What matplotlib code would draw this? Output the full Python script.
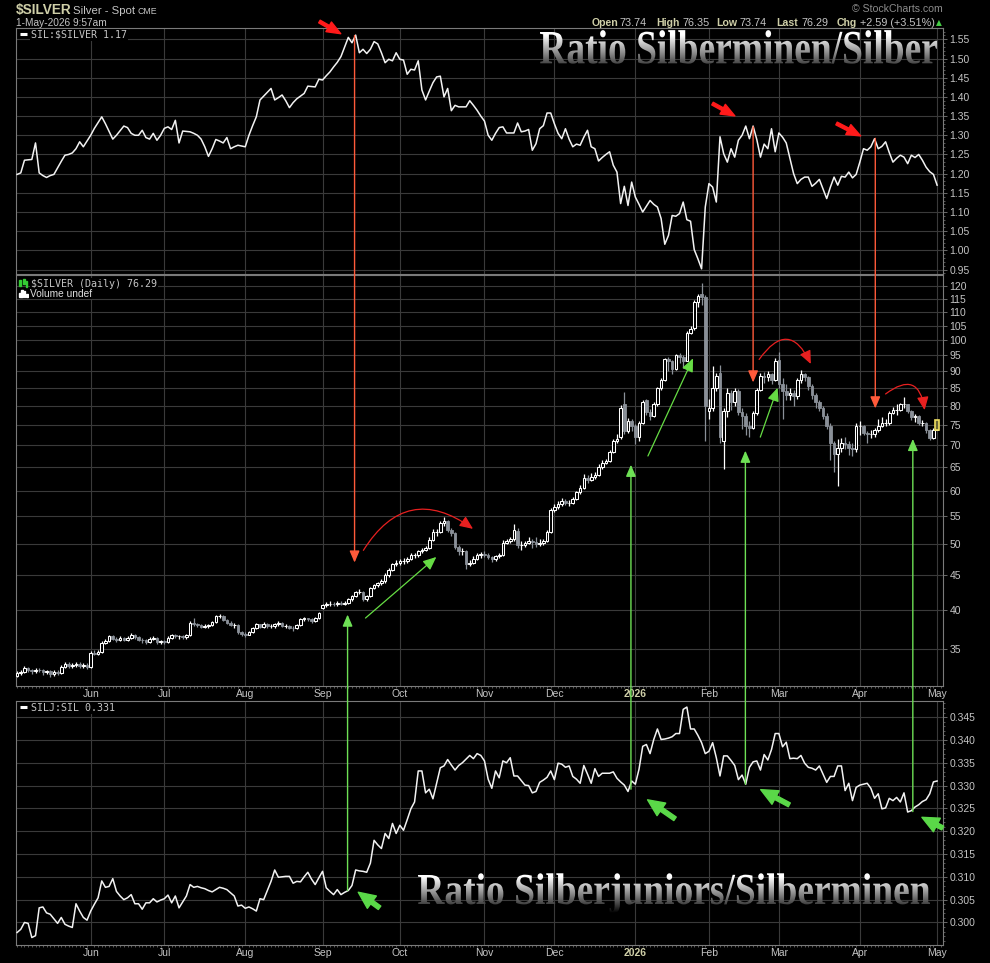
import numpy as np
import pandas as pd
import matplotlib
matplotlib.use("Agg")
import matplotlib.pyplot as plt
from matplotlib.patches import FancyArrowPatch, ConnectionPatch, PathPatch, Rectangle
from matplotlib.textpath import TextPath
from matplotlib.font_manager import FontProperties
from matplotlib.transforms import Affine2D
from matplotlib.ticker import MultipleLocator, NullLocator, NullFormatter, FuncFormatter

plt.rcParams['font.family'] = ['Liberation Sans', 'DejaVu Sans']

W, H = 990, 963
BG = "black"
GRID = "#3a3a3a"
FRAME = "#7a7a7a"
TXT = "#c4c4c4"
KHAKI = "#cfcfa8"
GRAY_C = "#8a9098"

# trading days (US holidays skipped)
holidays = ["2025-05-26", "2025-06-19", "2025-07-04", "2025-09-01", "2025-11-27",
            "2025-12-25", "2026-01-01", "2026-01-19", "2026-02-16", "2026-04-03"]
days = pd.bdate_range("2025-05-02", "2026-05-01")
days = days[~days.isin(pd.to_datetime(holidays))]

# ---- SIL:$SILVER ratio (top panel)
sil_silver = [
    1.198, 1.202, 1.235, 1.236, 1.237, 1.280, 1.202, 1.195, 1.190, 1.195,
    1.198, 1.215, 1.232, 1.248, 1.250, 1.254, 1.265, 1.283, 1.270, 1.285,
    1.300, 1.318, 1.333, 1.348, 1.330, 1.310, 1.290, 1.300, 1.312, 1.324,
    1.320, 1.305, 1.300, 1.300, 1.313, 1.294, 1.290, 1.305, 1.287, 1.300,
    1.318, 1.322, 1.315, 1.339, 1.280, 1.311, 1.310, 1.309, 1.305, 1.300,
    1.290, 1.270, 1.245, 1.265, 1.289, 1.285, 1.280, 1.294, 1.265, 1.270,
    1.274, 1.272, 1.270, 1.300, 1.325, 1.348, 1.392, 1.402, 1.412, 1.422,
    1.392, 1.398, 1.405, 1.390, 1.372, 1.385, 1.395, 1.402, 1.409, 1.428,
    1.427, 1.426, 1.446, 1.444, 1.455, 1.465, 1.478, 1.490, 1.505, 1.530,
    1.555, 1.541, 1.561, 1.515, 1.524, 1.513, 1.524, 1.544, 1.538, 1.515,
    1.489, 1.498, 1.494, 1.515, 1.498, 1.496, 1.459, 1.472, 1.470, 1.494,
    1.418, 1.392, 1.415, 1.437, 1.452, 1.454, 1.400, 1.422, 1.364, 1.378,
    1.374, 1.374, 1.374, 1.390, 1.378, 1.365, 1.350, 1.337, 1.300, 1.287,
    1.305, 1.320, 1.322, 1.306, 1.306, 1.306, 1.332, 1.309, 1.311, 1.315,
    1.261, 1.278, 1.317, 1.325, 1.358, 1.358, 1.330, 1.305, 1.291, 1.317,
    1.290, 1.270, 1.277, 1.274, 1.295, 1.313, 1.270, 1.265, 1.233, 1.242,
    1.250, 1.257, 1.222, 1.204, 1.122, 1.167, 1.117, 1.178, 1.139, 1.120,
    1.100, 1.115, 1.130, 1.120, 1.113, 1.083, 1.016, 1.039, 1.091, 1.089,
    1.096, 1.126, 1.080, 1.076, 1.002, 0.978, 0.952, 1.113, 1.174, 1.165,
    1.126, 1.296, 1.252, 1.230, 1.265, 1.243, 1.287, 1.300, 1.324, 1.291,
    1.324, 1.289, 1.243, 1.277, 1.265, 1.317, 1.257, 1.306, 1.295, 1.280,
    1.240, 1.200, 1.174, 1.185, 1.191, 1.191, 1.167, 1.175, 1.185, 1.160,
    1.135, 1.165, 1.191, 1.170, 1.193, 1.191, 1.204, 1.189, 1.198, 1.230,
    1.265, 1.261, 1.270, 1.291, 1.265, 1.271, 1.283, 1.255, 1.230, 1.240,
    1.248, 1.243, 1.226, 1.248, 1.242, 1.250, 1.235, 1.217, 1.205, 1.198,
    1.170,
]

# ---- $SILVER daily candles (middle panel)
silver_open = [
    32.0, 32.3, 32.4, 32.9, 32.6, 32.5, 32.7, 32.6, 32.4, 32.5,
    32.2, 32.4, 32.3, 33.0, 33.3, 33.1, 33.2, 33.3, 33.1, 33.2,
    33.0, 34.6, 34.5, 34.7, 35.8, 36.0, 36.6, 36.3, 36.2, 36.4,
    36.2, 36.4, 36.8, 36.5, 36.2, 36.1, 35.9, 36.3, 36.4, 35.9,
    36.0, 35.9, 36.4, 36.7, 36.6, 36.6, 36.5, 36.7, 38.3, 38.1,
    38.0, 37.8, 37.9, 38.0, 38.4, 39.2, 39.2, 38.7, 38.3, 38.0,
    38.0, 37.1, 36.9, 36.8, 37.1, 37.6, 38.1, 37.8, 38.2, 37.9,
    37.9, 38.1, 38.3, 37.9, 37.9, 37.7, 37.6, 38.0, 38.8, 38.9,
    38.8, 38.5, 38.9, 40.3, 40.7, 40.8, 40.9, 40.8, 41.0, 40.9,
    41.0, 41.5, 41.9, 42.5, 42.6, 41.6, 41.9, 43.1, 43.5, 43.8,
    44.1, 45.0, 45.9, 46.7, 47.0, 47.2, 47.3, 47.6, 48.2, 48.2,
    48.8, 49.1, 49.4, 50.8, 52.2, 52.2, 53.8, 54.1, 52.5, 51.9,
    49.6, 48.8, 48.8, 46.8, 47.0, 47.6, 48.2, 48.4, 48.3, 47.9,
    47.5, 48.0, 48.2, 50.3, 50.6, 50.9, 52.4, 49.9, 49.9, 50.3,
    50.6, 50.4, 50.1, 50.3, 50.6, 52.1, 56.2, 56.8, 57.4, 58.0,
    57.6, 57.6, 58.3, 59.7, 60.6, 62.7, 62.3, 62.8, 63.3, 65.0,
    66.0, 66.4, 68.3, 71.1, 72.0, 80.5, 73.5, 76.0, 74.6, 72.0,
    75.5, 81.5, 78.3, 77.4, 80.5, 84.9, 87.3, 93.8, 93.2, 90.5,
    94.9, 94.5, 93.2, 102.5, 104.0, 113.9, 117.0, 115.6, 78.5, 79.4,
    84.9, 89.5, 71.0, 78.6, 83.5, 81.1, 84.0, 78.3, 77.4, 74.6,
    74.3, 78.0, 84.5, 88.6, 88.1, 89.0, 87.3, 93.5, 86.0, 84.0,
    83.0, 83.5, 82.7, 87.3, 89.0, 88.1, 85.5, 83.0, 81.1, 79.5,
    77.4, 74.6, 70.5, 67.9, 69.4, 70.6, 70.3, 69.4, 69.0, 74.6,
    74.6, 73.0, 72.6, 72.6, 73.6, 74.8, 75.4, 75.4, 78.2, 79.0,
    79.0, 80.4, 80.4, 78.6, 76.9, 77.4, 75.4, 75.4, 73.6, 71.8,
    73.74,
]
silver_high = [
    32.5, 32.6, 33.1, 33.0, 32.8, 32.9, 32.9, 32.8, 32.7, 32.6,
    32.6, 32.6, 33.2, 33.5, 33.5, 33.4, 33.5, 33.5, 33.4, 33.4,
    34.8, 34.9, 34.9, 36.0, 36.3, 36.8, 36.7, 36.5, 36.6, 36.5,
    36.6, 37.0, 36.9, 36.6, 36.4, 36.3, 36.5, 36.6, 36.5, 36.2,
    36.2, 36.6, 36.9, 36.9, 36.8, 36.8, 36.9, 38.6, 38.9, 38.3,
    38.1, 38.1, 38.2, 38.6, 39.4, 39.5, 39.3, 38.8, 38.5, 38.3,
    38.1, 37.3, 37.1, 37.3, 37.8, 38.3, 38.2, 38.4, 38.3, 38.1,
    38.3, 38.5, 38.4, 38.1, 38.0, 37.9, 38.2, 39.0, 39.1, 39.0,
    38.9, 39.1, 39.8, 40.9, 41.1, 41.2, 41.1, 41.3, 41.3, 41.3,
    41.7, 42.1, 42.7, 42.9, 42.7, 42.1, 43.3, 43.7, 44.0, 44.4,
    45.3, 46.2, 47.0, 47.4, 47.5, 47.7, 47.9, 48.6, 48.6, 49.1,
    49.4, 49.8, 51.2, 52.6, 52.6, 54.2, 54.9, 54.3, 52.8, 52.1,
    49.9, 49.3, 49.0, 47.4, 48.0, 48.6, 48.7, 48.8, 48.5, 48.1,
    48.3, 48.6, 50.7, 51.0, 51.3, 53.6, 52.8, 50.6, 50.6, 51.3,
    50.9, 51.2, 50.9, 51.0, 52.5, 56.6, 57.3, 57.9, 58.6, 58.3,
    58.2, 58.7, 60.0, 61.2, 63.5, 63.3, 63.6, 64.0, 65.6, 66.6,
    66.9, 68.8, 71.6, 72.6, 80.3, 83.8, 76.8, 76.5, 75.2, 76.0,
    81.6, 82.0, 79.2, 81.0, 85.3, 88.0, 94.2, 94.5, 93.6, 95.3,
    95.6, 95.0, 103.0, 105.0, 114.5, 117.0, 121.5, 116.5, 82.0, 91.5,
    89.5, 92.0, 79.5, 85.0, 84.5, 85.0, 84.8, 79.5, 78.0, 76.0,
    78.5, 85.0, 89.5, 89.8, 90.0, 89.5, 94.0, 96.0, 88.0, 86.0,
    85.0, 84.5, 87.8, 90.2, 89.5, 88.5, 86.0, 83.5, 81.5, 80.0,
    78.0, 75.5, 71.0, 71.5, 71.8, 72.0, 71.0, 70.5, 75.5, 76.0,
    75.0, 73.5, 73.8, 74.2, 76.5, 77.0, 76.5, 78.6, 79.8, 80.5,
    80.9, 82.5, 80.6, 78.8, 77.8, 77.6, 76.2, 75.8, 74.0, 74.1,
    76.35,
]
silver_low = [
    31.9, 32.1, 32.3, 32.4, 32.2, 32.3, 32.4, 32.1, 32.2, 31.9,
    32.0, 32.1, 32.2, 32.9, 32.9, 32.9, 33.0, 32.9, 32.9, 32.8,
    32.9, 34.3, 34.3, 34.6, 35.6, 35.9, 36.1, 35.9, 36.0, 36.0,
    36.0, 36.3, 36.3, 36.0, 35.8, 35.7, 35.8, 36.1, 35.7, 35.7,
    35.6, 35.8, 36.3, 36.4, 36.3, 36.3, 36.3, 36.6, 37.9, 37.8,
    37.6, 37.6, 37.7, 37.9, 38.3, 38.9, 38.5, 38.1, 37.9, 37.7,
    36.9, 36.6, 36.5, 36.7, 37.0, 37.5, 37.6, 37.7, 37.7, 37.6,
    37.7, 37.9, 37.8, 37.6, 37.5, 37.2, 37.5, 37.9, 38.6, 38.5,
    38.3, 38.4, 38.8, 40.1, 40.4, 40.6, 40.5, 40.6, 40.7, 40.7,
    40.9, 41.3, 41.8, 42.2, 41.3, 41.3, 41.8, 42.9, 43.3, 43.6,
    43.9, 44.8, 45.7, 46.4, 46.6, 46.7, 46.9, 47.4, 47.8, 47.9,
    48.5, 48.8, 49.2, 50.5, 51.5, 52.0, 53.3, 52.2, 51.4, 49.2,
    48.3, 48.2, 46.0, 46.4, 46.8, 47.4, 47.8, 47.9, 47.6, 47.1,
    47.3, 47.8, 48.0, 50.0, 50.3, 50.6, 49.4, 49.1, 49.6, 50.0,
    49.3, 49.6, 49.8, 49.9, 50.4, 52.0, 55.8, 56.4, 57.0, 57.2,
    56.9, 57.3, 58.1, 59.4, 60.4, 61.5, 61.9, 62.4, 63.0, 64.5,
    65.6, 66.2, 68.1, 70.6, 71.6, 72.8, 73.0, 73.4, 70.2, 71.0,
    75.2, 77.6, 76.3, 77.0, 80.0, 84.5, 87.0, 90.0, 89.0, 90.2,
    92.5, 91.0, 93.0, 102.0, 103.5, 112.0, 112.5, 71.0, 76.5, 78.5,
    84.0, 70.5, 64.5, 77.0, 79.0, 80.0, 77.5, 74.0, 72.5, 72.0,
    74.0, 77.5, 84.0, 86.5, 87.0, 86.0, 87.0, 85.0, 76.5, 81.5,
    81.5, 80.0, 82.0, 86.5, 87.0, 84.5, 82.0, 79.5, 78.5, 76.5,
    74.0, 66.5, 64.0, 61.0, 68.5, 69.0, 67.8, 67.5, 68.5, 72.5,
    72.5, 70.5, 71.8, 72.0, 73.2, 74.5, 74.8, 75.0, 77.8, 77.5,
    78.5, 79.3, 78.0, 76.2, 75.8, 74.9, 74.8, 73.0, 71.2, 71.5,
    73.74,
]
silver_close = [
    32.3, 32.4, 32.9, 32.6, 32.5, 32.7, 32.6, 32.4, 32.5, 32.2,
    32.4, 32.3, 33.0, 33.3, 33.1, 33.2, 33.3, 33.1, 33.2, 33.0,
    34.6, 34.5, 34.7, 35.8, 36.0, 36.6, 36.3, 36.2, 36.4, 36.2,
    36.4, 36.8, 36.5, 36.2, 36.1, 35.9, 36.3, 36.4, 35.9, 36.0,
    35.9, 36.4, 36.7, 36.6, 36.6, 36.5, 36.7, 38.3, 38.1, 38.0,
    37.8, 37.9, 38.0, 38.4, 39.2, 39.2, 38.7, 38.3, 38.0, 38.0,
    37.1, 36.9, 36.8, 37.1, 37.6, 38.1, 37.8, 38.2, 37.9, 37.9,
    38.1, 38.3, 37.9, 37.9, 37.7, 37.6, 38.0, 38.8, 38.9, 38.8,
    38.5, 38.9, 39.6, 40.7, 40.8, 40.9, 40.8, 41.0, 40.9, 41.0,
    41.5, 41.9, 42.5, 42.6, 41.6, 41.9, 43.1, 43.5, 43.8, 44.1,
    45.0, 45.9, 46.7, 47.0, 47.2, 47.3, 47.6, 48.2, 48.2, 48.8,
    49.1, 49.4, 50.8, 52.2, 52.2, 53.8, 54.1, 52.5, 51.9, 49.6,
    48.8, 48.8, 46.8, 47.0, 47.6, 48.2, 48.4, 48.3, 47.9, 47.5,
    48.0, 48.2, 50.3, 50.6, 50.9, 52.5, 49.9, 49.9, 50.3, 50.6,
    50.4, 50.1, 50.3, 50.6, 52.1, 56.2, 56.8, 57.4, 58.0, 57.6,
    57.6, 58.3, 59.7, 60.6, 62.7, 62.3, 62.8, 63.3, 65.0, 66.0,
    66.4, 68.3, 71.1, 71.5, 79.5, 73.5, 76.0, 74.6, 72.0, 75.5,
    81.1, 78.3, 77.4, 80.5, 84.9, 87.3, 93.8, 93.2, 90.5, 94.9,
    94.5, 93.2, 102.5, 103.9, 113.9, 116.3, 115.6, 80.0, 79.4, 84.9,
    88.6, 72.0, 78.6, 83.5, 81.1, 84.0, 78.3, 77.4, 74.6, 74.3,
    78.0, 84.5, 88.6, 88.1, 89.0, 87.3, 93.0, 86.0, 84.0, 83.0,
    83.5, 82.7, 87.3, 89.0, 88.1, 85.5, 83.0, 81.1, 79.5, 77.4,
    74.6, 70.5, 67.9, 69.4, 70.6, 70.3, 69.4, 69.0, 74.6, 74.6,
    73.0, 72.6, 72.6, 73.6, 74.8, 75.4, 75.4, 78.2, 79.0, 79.0,
    80.4, 80.4, 78.6, 76.9, 77.4, 75.4, 75.4, 73.6, 71.8, 73.70,
    76.29,
]

# ---- SILJ:SIL ratio (bottom panel)
silj_sil = [
    .2978, .2985, .3000, .2998, .2967, .2971, .3032, .3034, .3021, .3018,
    .3008, .2998, .3011, .2996, .2992, .2989, .3041, .3025, .3011, .3005,
    .3025, .3040, .3054, .3091, .3077, .3079, .3096, .3068, .3058, .3050,
    .3054, .3061, .3041, .3041, .3029, .3043, .3043, .3052, .3045, .3049,
    .3052, .3060, .3043, .3058, .3032, .3045, .3058, .3083, .3077, .3079,
    .3076, .3074, .3070, .3067, .3072, .3077, .3075, .3072, .3065, .3058,
    .3036, .3038, .3031, .3034, .3030, .3025, .3052, .3050, .3070, .3090,
    .3115, .3099, .3100, .3101, .3101, .3086, .3090, .3089, .3100, .3110,
    .3095, .3083, .3098, .3112, .3076, .3068, .3061, .3072, .3061, .3066,
    .3070, .3081, .3115, .3113, .3112, .3110, .3130, .3180, .3170, .3162,
    .3195, .3184, .3217, .3195, .3213, .3202, .3225, .3249, .3264, .3332,
    .3332, .3284, .3292, .3271, .3305, .3339, .3343, .3357, .3345, .3334,
    .3344, .3350, .3358, .3366, .3359, .3370, .3366, .3354, .3314, .3294,
    .3332, .3317, .3354, .3350, .3361, .3321, .3321, .3311, .3301, .3300,
    .3284, .3287, .3307, .3312, .3318, .3332, .3313, .3349, .3347, .3340,
    .3343, .3320, .3314, .3305, .3344, .3325, .3305, .3337, .3320, .3327,
    .3327, .3327, .3330, .3316, .3308, .3301, .3287, .3310, .3303, .3336,
    .3386, .3390, .3370, .3401, .3424, .3401, .3402, .3404, .3407, .3414,
    .3414, .3467, .3472, .3424, .3424, .3410, .3394, .3370, .3375, .3394,
    .3361, .3321, .3365, .3365, .3355, .3344, .3313, .3323, .3303, .3340,
    .3352, .3354, .3334, .3368, .3356, .3379, .3414, .3414, .3385, .3395,
    .3359, .3360, .3359, .3366, .3349, .3340, .3338, .3334, .3343, .3325,
    .3307, .3320, .3320, .3343, .3343, .3289, .3305, .3267, .3296, .3301,
    .3303, .3305, .3294, .3272, .3282, .3249, .3251, .3272, .3267, .3274,
    .3264, .3284, .3242, .3245, .3253, .3258, .3265, .3269, .3282, .3308,
    .3310,
]

# tick labels
top_ticks = [0.95, 1.00, 1.05, 1.10, 1.15, 1.20, 1.25, 1.30, 1.35, 1.40, 1.45, 1.50, 1.55]
mid_ticks = [35, 40, 45, 50, 55, 60, 65, 70, 75, 80, 85, 90, 95, 100, 105, 110, 115, 120]
bot_ticks = [0.300, 0.305, 0.310, 0.315, 0.320, 0.325, 0.330, 0.335, 0.340, 0.345]

# annotations (day index, values) drawn by the chart author
red_drops = [(91.7, 1.560, 47.0), (200.0, 1.322, 86.6), (233.2, 1.292, 79.3)]
green_lifts = [(89.8, 0.3070, 39.4), (166.8, 0.3292, 65.5), (197.9, 0.3303, 68.7), (243.4, 0.3243, 71.5)]
red_pointers = [((81.5, 1.600), (88.6, 1.561)), ((188.3, 1.386), (195.7, 1.347)),
                ((222.0, 1.334), (229.9, 1.295))]
green_pointers = [((99.1, 0.30286), (92.1, 0.30698)), ((179.4, 0.32237), (170.7, 0.32722)),
                  ((210.5, 0.32549), (201.4, 0.32939)), ((252.2, 0.32042), (245.2, 0.32332))]
red_arcs = [((93.7, 48.6), (124.5, 52.4), -0.55), ((201.2, 92.9), (216.0, 91.4), -0.9),
            ((235.4, 82.8), (246.7, 78.1), -0.9)]
green_trends = [((94.1, 38.7), (114.5, 48.2)), ((171.1, 66.9), (184.0, 94.8)),
                ((201.7, 71.3), (206.9, 85.8))]

n = len(days)
x = np.arange(n)
so = np.array(silver_open)
sh = np.array(silver_high)
sl = np.array(silver_low)
sc = np.array(silver_close)

month_pos = [i for i in range(1, n) if days[i].month != days[i - 1].month]
month_lab = ["2026" if days[i].month == 1 else days[i].strftime("%b") for i in month_pos]

fig = plt.figure(figsize=(W / 100, H / 100), dpi=100, facecolor=BG)


def px_axes(x0, y0, x1, y1):
    return fig.add_axes([x0 / W, 1 - y1 / H, (x1 - x0) / W, (y1 - y0) / H], facecolor=BG)


ax1 = px_axes(16, 28, 943, 274.5)
ax2 = px_axes(16, 274.5, 943, 686)
ax3 = px_axes(16, 701, 943, 945)
ax2.set_yscale("log")


def style(ax, ticks, fmt, show_x, yminor=None):
    ax.set_xlim(-0.3, 251.6)
    ax.yaxis.tick_right()
    ax.set_yticks(ticks)
    ax.yaxis.set_major_formatter(FuncFormatter(lambda v, p: fmt % v))
    if yminor:
        ax.yaxis.set_minor_locator(MultipleLocator(yminor))
    else:
        ax.yaxis.set_minor_locator(NullLocator())
    ax.yaxis.set_minor_formatter(NullFormatter())
    ax.set_xticks(month_pos)
    ax.xaxis.set_minor_locator(MultipleLocator(1))
    ax.grid(True, which="major", color=GRID, lw=0.8)
    ax.set_axisbelow(True)
    for s in ax.spines.values():
        s.set_color(FRAME)
        s.set_linewidth(0.8)
    ax.tick_params(axis="y", which="major", length=3, width=0.6, color=FRAME,
                   labelcolor=TXT, labelsize=7.5, pad=1.5)
    ax.tick_params(axis="y", which="minor", length=1.5, width=0.5, color=FRAME)
    ax.tick_params(axis="x", which="major", length=0, labelcolor=TXT, labelsize=7.5, pad=2.5)
    ax.tick_params(axis="x", which="minor", length=1.6, width=0.5, color=FRAME)
    if show_x:
        ax.set_xticklabels(month_lab)
        for lbl in ax.get_xticklabels():
            if lbl.get_text() == "2026":
                lbl.set_color(KHAKI)
                lbl.set_fontweight("bold")
    else:
        ax.set_xticklabels([])


# top: SIL:$SILVER
ax1.plot(x, sil_silver, color="#f2f2f2", lw=1.1, zorder=3)
ax1.set_ylim(0.9372, 1.5795)
style(ax1, top_ticks, "%.2f", False, 0.01)

# middle: $SILVER candles
up = sc >= so
ax2.vlines(x[up], sl[up], sh[up], color="white", lw=0.9, zorder=2)
ax2.vlines(x[~up], sl[~up], sh[~up], color=GRAY_C, lw=0.9, zorder=2)
ax2.bar(x[up], sc[up] - so[up], bottom=so[up], width=0.72, facecolor=BG,
        edgecolor="white", lw=0.75, zorder=3)
ax2.bar(x[~up], so[~up] - sc[~up], bottom=sc[~up], width=0.72, facecolor=GRAY_C,
        edgecolor=GRAY_C, lw=0.6, zorder=3)
ax2.bar(x[-1], sc[-1] - so[-1], bottom=so[-1], width=0.95, facecolor="#6a6636",
        edgecolor="#f0e060", lw=1.2, zorder=4)
ax2.set_ylim(30.92, 124.9)
style(ax2, mid_ticks, "%d", True)

# bottom: SILJ:SIL
ax3.plot(x, silj_sil, color="#f2f2f2", lw=1.1, zorder=3)
ax3.set_ylim(0.29506, 0.34853)
style(ax3, bot_ticks, "%.3f", True, 0.001)

# ---- annotations
RED_LINE = "#ff5a3a"
GREEN_LINE = "#6ee055"
for i, top_v, price in red_drops:
    con = ConnectionPatch(xyA=(i, top_v), coordsA="data", axesA=ax1,
                          xyB=(i, price), coordsB="data", axesB=ax2,
                          arrowstyle="-|>,head_length=0.7,head_width=0.3",
                          mutation_scale=10, color=RED_LINE, lw=1.0, zorder=5)
    fig.add_artist(con)
for i, bot_v, price in green_lifts:
    con = ConnectionPatch(xyA=(i, bot_v), coordsA="data", axesA=ax3,
                          xyB=(i, price), coordsB="data", axesB=ax2,
                          arrowstyle="-|>,head_length=0.7,head_width=0.3",
                          mutation_scale=10, color=GREEN_LINE, lw=1.0, zorder=5)
    fig.add_artist(con)

for tail, head in red_pointers:
    ax1.add_patch(FancyArrowPatch(tail, head,
                                  arrowstyle="simple,head_length=1.0,head_width=0.8,tail_width=0.22",
                                  mutation_scale=10, color="#ff1a1a", clip_on=False, zorder=6))
for tail, head in green_pointers:
    ax3.add_patch(FancyArrowPatch(tail, head,
                                  arrowstyle="simple,head_length=1.1,head_width=1.0,tail_width=0.28",
                                  mutation_scale=11, color="#5ad848", clip_on=False, zorder=6))
for a, b, rad in red_arcs:
    ax2.add_patch(FancyArrowPatch(a, b, connectionstyle="arc3,rad=%.2f" % rad,
                                  arrowstyle="-|>,head_length=0.8,head_width=0.35",
                                  mutation_scale=10, color="#e82020", lw=0.9, zorder=6))
for a, b in green_trends:
    ax2.add_patch(FancyArrowPatch(a, b, arrowstyle="-|>,head_length=0.8,head_width=0.35",
                                  mutation_scale=10, color="#66dd44", lw=0.9, zorder=6))

# ---- overlay in pixel coordinates for header, legends and titles
ov = fig.add_axes([0, 0, 1, 1], zorder=10)
ov.set_xlim(0, W)
ov.set_ylim(H, 0)
ov.set_axis_off()
ov.set_autoscale_on(False)


def gradient_title(text, x0, x1, y_top, y_base):
    fp = FontProperties(family="Liberation Serif", weight="bold")
    tp = TextPath((0, 0), text, size=100, prop=fp)
    cap = TextPath((0, 0), "R", size=100, prop=fp).get_extents()
    ext = tp.get_extents()
    sx = (x1 - x0) / ext.width
    sy = (y_base - y_top) / cap.height
    tr = Affine2D().translate(-ext.x0, 0).scale(sx, -sy).translate(x0, y_base)
    path = tr.transform_path(tp)
    patch = PathPatch(path, facecolor="none", edgecolor="none", transform=ov.transData)
    ov.add_patch(patch)
    y_hi = y_base - ext.y1 * sy
    y_lo = y_base - ext.y0 * sy
    rows = np.linspace(y_hi, y_lo, 200)
    grad = np.interp(rows, [y_hi, y_top + 3, y_base, y_lo], [1.0, 1.0, 0.28, 0.0]).reshape(-1, 1)
    im = ov.imshow(grad, cmap="gray", vmin=0, vmax=1, origin="upper", aspect="auto",
                   extent=[x0 - 2, x1 + 2, y_lo, y_hi], interpolation="bilinear", zorder=4)
    im.set_clip_path(patch)


gradient_title("Ratio Silberminen/Silber", 540, 937, 32, 63.5)
gradient_title("Ratio Silberjuniors/Silberminen", 418, 930, 875, 904)
ov.set_xlim(0, W)
ov.set_ylim(H, 0)

# header
ov.text(16, 14, "$SILVER", color=KHAKI, fontsize=9.8, fontweight="bold", va="baseline")
ov.text(73, 14, "Silver - Spot", color=TXT, fontsize=8.2, va="baseline")
ov.text(137, 14, "CME", color=TXT, fontsize=6.3, va="baseline")
ov.text(16, 25.8, "1-May-2026 9:57am", color=TXT, fontsize=7.3, va="baseline")
ov.text(943, 12.5, "\u00a9 StockCharts.com", color="#8c8c8c", fontsize=7.6, ha="right", va="baseline")
last_chg = sc[-1] - sc[-2]
quote = [(591.5, "Open", True), (620, "%.2f" % so[-1], False),
         (656, "High", True), (682.5, "%.2f" % sh[-1], False),
         (716.5, "Low", True), (740, "%.2f" % sl[-1], False),
         (776, "Last", True), (801.5, "%.2f" % sc[-1], False),
         (836.5, "Chg", True), (860.5, "+%.2f (+%.2f%%)" % (last_chg, last_chg / sc[-2] * 100), False)]
for qx, s, bold in quote:
    if bold:
        ov.text(qx, 25.8, s, color=KHAKI, fontsize=7.6, fontweight="bold", va="baseline")
    else:
        ov.text(qx, 25.8, s, color=TXT, fontsize=7.8, va="baseline")
ov.text(936, 25.3, "\u25b2", color="#44cc44", fontsize=5.5, va="baseline", family=["DejaVu Sans"])

# legends
mono = "DejaVu Sans Mono"
box = dict(facecolor=BG, edgecolor="none", pad=0.6)
ov.plot([20, 27], [34.5, 34.5], color="white", lw=2.2, solid_capstyle="butt")
ov.text(31, 34.8, "SIL:$SILVER %.2f" % sil_silver[-1], family=mono, fontsize=7.2,
        color=TXT, va="center", bbox=box)
ov.add_patch(Rectangle((18.5, 280), 2.2, 6.5, color="#33cc33"))
ov.add_patch(Rectangle((22.5, 279), 2.2, 5.5, color="#33cc33"))
ov.add_patch(Rectangle((25.8, 281), 1.2, 6, color="#33cc33"))
ov.text(31, 283.8, "$SILVER (Daily) %.2f" % sc[-1], family=mono, fontsize=7.2,
        color=TXT, va="center", bbox=box)
for bx, bh in [(19, 4), (21.3, 7), (23.6, 5.5), (25.9, 3)]:
    ov.add_patch(Rectangle((bx, 297 - bh), 1.6, bh, color="white"))
ov.text(29.5, 293.6, "Volume undef", fontsize=7.3, color="#e0e0e0", va="center", bbox=box)
ov.plot([20, 27], [707.5, 707.5], color="white", lw=2.2, solid_capstyle="butt")
ov.text(31, 707.8, "SILJ:SIL %.3f" % silj_sil[-1], family=mono, fontsize=7.2,
        color=TXT, va="center", bbox=box)

fig.savefig("out.png", dpi=100, facecolor=BG)
